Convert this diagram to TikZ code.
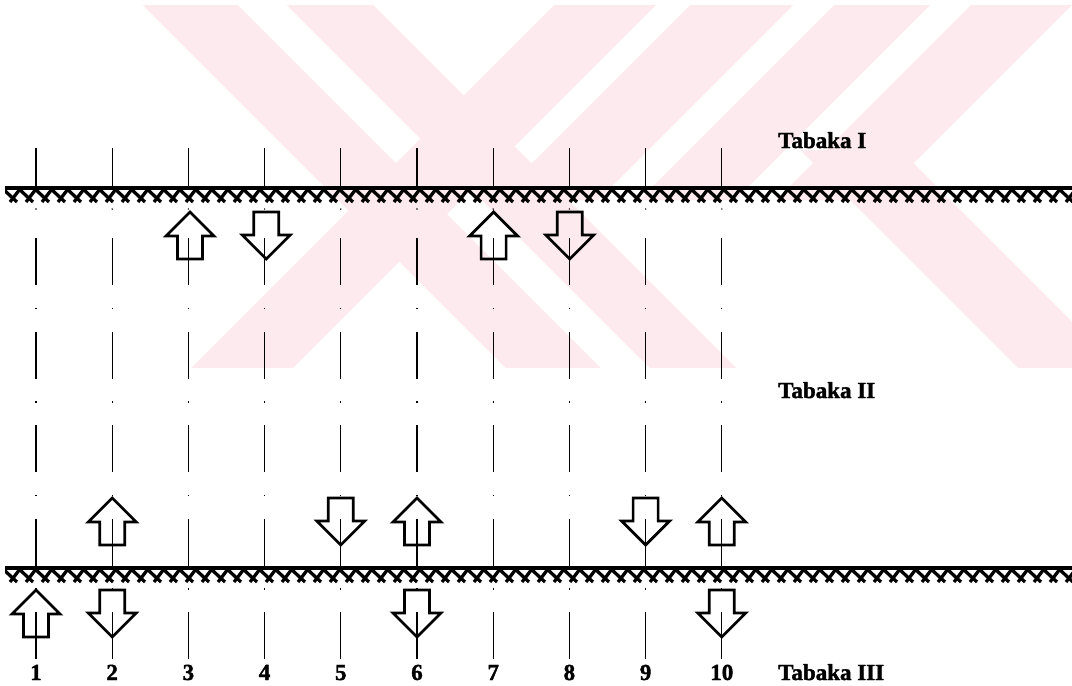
\documentclass[tikz,border=0pt]{standalone}
\usepackage{fontspec}
\setmainfont{Liberation Serif}
\newfontfamily\heavyfont[FakeBold=1.6]{Liberation Serif Bold}
\definecolor{wm}{RGB}{253,234,238}
\begin{document}
\begin{tikzpicture}[x=1pt,y=-1pt,
  vline/.style={line width=1.1pt,black},
  dashdot/.style={vline,dash pattern=on 47pt off 22.5pt on 1.5pt off 22.5pt},
  barrow/.style={line width=2.7pt,black,line join=miter},
  hatch/.style={line width=3.3pt,black},
  lbl/.style={font=\fontsize{23}{24}\heavyfont,inner sep=0pt},
  arrowup/.pic={\draw[barrow] (0,0) -- (24,24) -- (12.5,24) -- (12.5,47) -- (-12.5,47) -- (-12.5,24) -- (-24,24) -- cycle;},
  arrowdown/.pic={\draw[barrow] (0,47) -- (24,23) -- (12.5,23) -- (12.5,0) -- (-12.5,0) -- (-12.5,23) -- (-24,23) -- cycle;}
]
\useasboundingbox (0,0) rectangle (1072,686);
\fill[white] (0,0) rectangle (1072,686);
% watermark
\begin{scope}
  \clip (0,5) rectangle (1072,367);
  \fill[wm] (138,0) -- (233,0) -- (633,400) -- (538,400) -- cycle;
  \fill[wm] (282,0) -- (368,0) -- (768,400) -- (682,400) -- cycle;
  \fill[wm] (559,0) -- (661,0) -- (261,400) -- (159,400) -- cycle;
  \fill[wm] (695,0) -- (798,0) -- (598,200) -- (495,200) -- cycle;
  \fill[wm] (839,0) -- (935,0) -- (735,200) -- (639,200) -- cycle;
  \fill[wm] (976,0) -- (1077,0) -- (877,200) -- (776,200) -- cycle;
  \fill[wm] (800,150) -- (900,150) -- (1150,400) -- (1050,400) -- cycle;
\end{scope}
% vertical dash-dot lines
\foreach \i in {1,...,10}{
  \pgfmathsetmacro\xx{36+76.2*(\i-1)}
  \coordinate (top\i) at (\xx,148);
  \coordinate (band\i) at (\xx,187);
  \coordinate (dot\i) at (\xx,209);
  \coordinate (start\i) at (\xx,238);
  \coordinate (end\i) at (\xx,659);
  \draw[vline] (top\i) -- (band\i);
  \fill (dot\i) circle (0.8);
  \draw[dashdot] (start\i) -- (end\i);
  \node[lbl,anchor=base] (n\i) at (\xx,680) {\i};
}
% hatched bands
\begin{scope}
  \clip (5,180) rectangle (1072,203);
  \fill (5,185.5) rectangle (1072,189.5);
  \foreach \k in {0,...,67}{
    \draw[hatch] (3+16*\k,189) -- (17+16*\k,202);
    \draw[hatch] (20+16*\k,189) -- (10+16*\k,202);
  }
\end{scope}
\begin{scope}
  \clip (5,560) rectangle (1072,583);
  \fill (5,565.5) rectangle (1072,569.5);
  \foreach \k in {0,...,67}{
    \draw[hatch] (3+16*\k,569) -- (17+16*\k,582);
    \draw[hatch] (20+16*\k,569) -- (10+16*\k,582);
  }
\end{scope}
% block arrows
\pic at (190,212) {arrowup};
\pic at (266.2,212) {arrowdown};
\pic at (493.6,212) {arrowup};
\pic at (569.8,212) {arrowdown};
\pic at (112.2,498) {arrowup};
\pic at (340.8,498) {arrowdown};
\pic at (417,498) {arrowup};
\pic at (645.6,498) {arrowdown};
\pic at (721.8,498) {arrowup};
\pic at (36,590) {arrowup};
\pic at (112.2,590) {arrowdown};
\pic at (417,590) {arrowdown};
\pic at (721.8,590) {arrowdown};
% labels
\node[lbl,anchor=base west] (t1) at (778,148) {Tabaka I};
\node[lbl,anchor=base west] (t2) at (778,398) {Tabaka II};
\node[lbl,anchor=base west] (t3) at (778,680) {Tabaka III};
\end{tikzpicture}
\end{document}
